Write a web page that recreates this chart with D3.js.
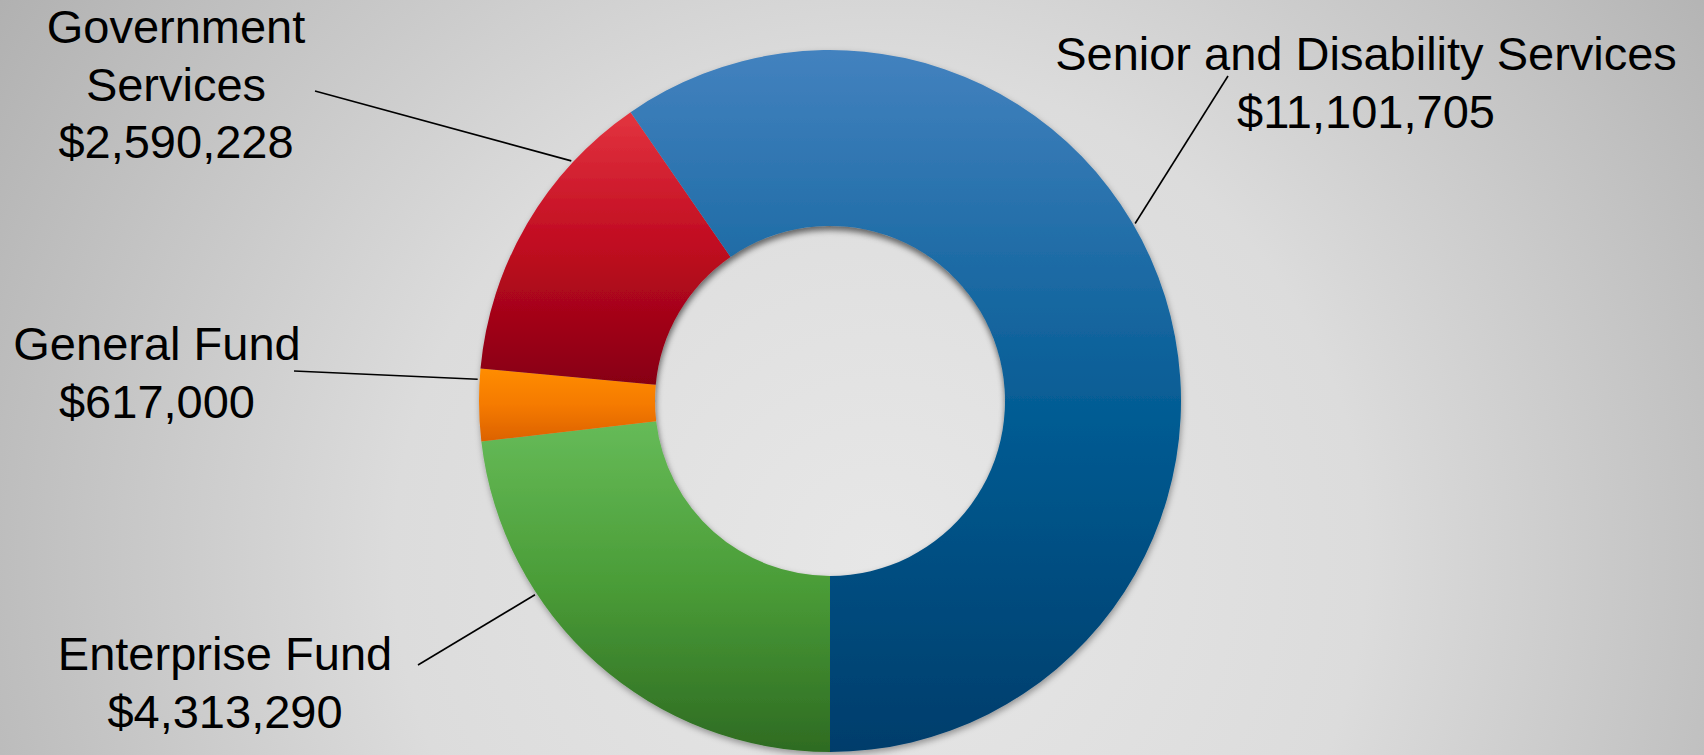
<!DOCTYPE html>
<html>
<head>
<meta charset="utf-8">
<script src="https://cdn.jsdelivr.net/npm/d3@7"></script>
<style>
  html, body { margin: 0; padding: 0; overflow: hidden; }
  svg { display: block; }
  text { font-family: "Liberation Sans", Arial, sans-serif; }
</style>
</head>
<body>
<svg id="chart"></svg>
<script>
// budget by fund, in dollars (order follows the ring clockwise from 6 o'clock)
const categories = ["Enterprise Fund", "General Fund", "Government Services", "Senior and Disability Services"];
const values = [4313290, 617000, 2590228, 11101705];
// label lines as printed
const labelLines = [
  ["Enterprise Fund", "$4,313,290"],
  ["General Fund", "$617,000"],
  ["Government", "Services", "$2,590,228"],
  ["Senior and Disability Services", "$11,101,705"]
];

const width = 1704, height = 755;
const cx = 830, cy = 401, outerR = 351, innerR = 175;

// gradient stops per slice (top -> bottom)
const sliceColors = [
  ["#66bb58", "#4a9c37", "#2e6b22"],
  ["#ff8d00", "#f57a00", "#dc6200"],
  ["#e3343f", "#bf0a20", "#870011"],
  ["#4382bf", "#065d95", "#003d6b"]
];
// where the leader line meets the ring (fraction through the slice), label anchor, line start
const labelPos = [
  { t: 0.68, x: 225, y: 670, lx: 418, ly: 665 },
  { t: 0.85, x: 157, y: 360, lx: 294, ly: 371 },
  { t: 0.75, x: 176, y: 43,  lx: 315, ly: 91 },
  { t: 0.44, x: 1366, y: 70, lx: 1228, ly: 76 }
];
const lineHeight = 57.5;

const svg = d3.select("#chart").attr("width", width).attr("height", height);
const defs = svg.append("defs");

// background
const bg = defs.append("radialGradient").attr("id", "bg")
  .attr("gradientUnits", "userSpaceOnUse")
  .attr("cx", 880).attr("cy", 560).attr("r", 1080);
bg.append("stop").attr("offset", 0).attr("stop-color", "#e7e7e7");
bg.append("stop").attr("offset", 0.45).attr("stop-color", "#dcdcdc");
bg.append("stop").attr("offset", 1).attr("stop-color", "#aeaeae");
svg.append("rect").attr("width", width).attr("height", height).attr("fill", "url(#bg)");

sliceColors.forEach((c, i) => {
  const g = defs.append("linearGradient").attr("id", "sl" + i)
    .attr("x1", 0).attr("y1", 0).attr("x2", 0).attr("y2", 1);
  c.forEach((col, k) => g.append("stop").attr("offset", k / (c.length - 1)).attr("stop-color", col));
});

const shadow = defs.append("filter").attr("id", "shadow")
  .attr("x", "-10%").attr("y", "-10%").attr("width", "120%").attr("height", "120%");
shadow.append("feDropShadow").attr("dx", 1).attr("dy", 3).attr("stdDeviation", 3)
  .attr("flood-color", "#000").attr("flood-opacity", 0.35);

const blur = defs.append("filter").attr("id", "blur")
  .attr("x", "-20%").attr("y", "-20%").attr("width", "140%").attr("height", "140%");
blur.append("feGaussianBlur").attr("stdDeviation", 3);

defs.append("clipPath").attr("id", "hole")
  .append("circle").attr("cx", cx).attr("cy", cy).attr("r", innerR);

const pie = d3.pie().sort(null).startAngle(Math.PI).endAngle(3 * Math.PI)(values);
const arc = d3.arc().innerRadius(innerR).outerRadius(outerR);

const ring = svg.append("g").attr("transform", `translate(${cx},${cy})`).attr("filter", "url(#shadow)");
ring.selectAll("path")
  .data(pie)
  .join("path")
  .attr("d", arc)
  .attr("fill", (d, i) => `url(#sl${i})`);

// inner shadow in the hole
svg.append("g").attr("clip-path", "url(#hole)")
  .append("circle")
  .attr("cx", cx).attr("cy", cy + 5).attr("r", innerR + 6)
  .attr("fill", "none").attr("stroke", "#000").attr("stroke-width", 10)
  .attr("stroke-opacity", 0.35).attr("filter", "url(#blur)");

// leader lines
svg.append("g").selectAll("line")
  .data(pie)
  .join("line")
  .attr("x1", (d, i) => labelPos[i].lx)
  .attr("y1", (d, i) => labelPos[i].ly)
  .attr("x2", (d, i) => {
    const a = d.startAngle + (d.endAngle - d.startAngle) * labelPos[i].t;
    return cx + Math.sin(a) * (outerR + 2);
  })
  .attr("y2", (d, i) => {
    const a = d.startAngle + (d.endAngle - d.startAngle) * labelPos[i].t;
    return cy - Math.cos(a) * (outerR + 2);
  })
  .attr("stroke", "#000").attr("stroke-width", 1.6);

// labels
const labels = svg.append("g").selectAll("text")
  .data(categories)
  .join("text")
  .attr("x", (d, i) => labelPos[i].x)
  .attr("y", (d, i) => labelPos[i].y)
  .attr("text-anchor", "middle")
  .attr("font-size", 47)
  .attr("fill", "#000");
labels.selectAll("tspan")
  .data((d, i) => labelLines[i].map(s => ({ s, x: labelPos[i].x })))
  .join("tspan")
  .attr("x", d => d.x)
  .attr("dy", (d, k) => k === 0 ? 0 : lineHeight)
  .text(d => d.s);
</script>
</body>
</html>
